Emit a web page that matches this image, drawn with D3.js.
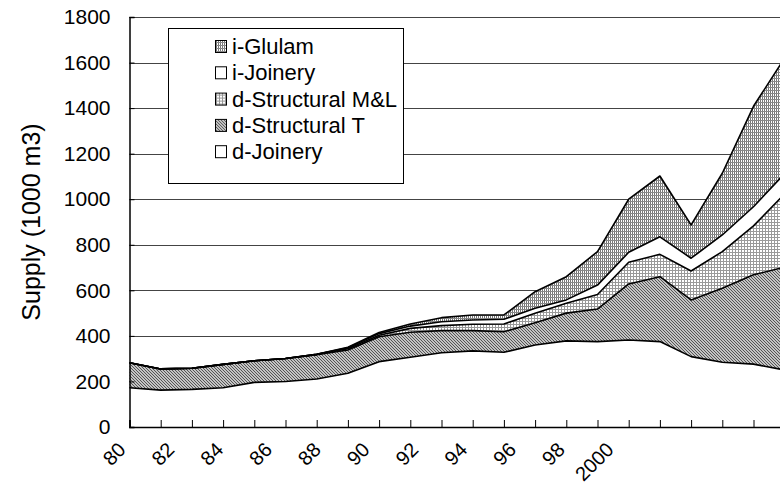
<!DOCTYPE html>
<html>
<head>
<meta charset="utf-8">
<script src="https://cdn.jsdelivr.net/npm/d3@7"></script>
<style>
  body { margin: 0; background: #fff; }
  text { font-family: "Liberation Sans", Arial, sans-serif; fill: #000; }
</style>
</head>
<body>
<div id="chart"></div>
<script>
// categories (years)
var years = [1980, 1981, 1982, 1983, 1984, 1985, 1986, 1987, 1988, 1989, 1990,
             1991, 1992, 1993, 1994, 1995, 1996, 1997, 1998, 1999, 2000, 2001];

// series, bottom to top (1000 m3)
var dJoinery  = [172, 162, 165, 172, 196, 200, 211, 236, 287, 306, 326, 334, 328, 360, 378, 375, 382, 375, 309, 284, 276, 250];
var dStructT  = [110, 93, 93, 103, 95, 101, 106, 102, 109, 110, 97, 89, 90, 98, 122, 143, 246, 285, 249, 325, 392, 452];
var dStructML = [0, 0, 0, 0, 0, 0, 2, 6, 7, 17, 22, 28, 34, 41, 43, 64, 95, 98, 127, 161, 215, 322];
var iJoinery  = [0, 0, 0, 0, 0, 0, 0, 4, 7, 10, 17, 19, 21, 22, 15, 41, 44, 77, 56, 73, 84, 89];
var iGlulam   = [0, 0, 0, 0, 0, 0, 0, 2, 5, 9, 18, 22, 19, 73, 102, 147, 233, 267, 146, 271, 441, 507];

var keys = ['dJoinery', 'dStructT', 'dStructML', 'iJoinery', 'iGlulam'];
var labels = {
    iGlulam: 'i-Glulam',
    iJoinery: 'i-Joinery',
    dStructML: 'd-Structural M&L',
    dStructT: 'd-Structural T',
    dJoinery: 'd-Joinery'
};
var legendOrder = ['iGlulam', 'iJoinery', 'dStructML', 'dStructT', 'dJoinery'];

var yTicks = [0, 200, 400, 600, 800, 1000, 1200, 1400, 1600, 1800];
var xLabels = [1980, 1982, 1984, 1986, 1988, 1990, 1992, 1994, 1996, 1998, 2000];

// table for d3.stack
var table = years.map(function (yr, i) {
    return {
        year: yr,
        dJoinery: dJoinery[i],
        dStructT: dStructT[i],
        dStructML: dStructML[i],
        iJoinery: iJoinery[i],
        iGlulam: iGlulam[i]
    };
});

var width = 780;
var height = 498;
var plotLeft = 129.5;
var plotTop = 17;
var plotBottom = 427;

var x = d3.scaleLinear().domain([1980, 2001]).range([plotLeft, plotLeft + 21 * 31.2]);
var y = d3.scaleLinear().domain([0, 1800]).range([plotBottom, plotTop]);
// the year labels sit on their own, tighter spacing in the picture
var xLab = d3.scaleLinear().domain([1980, 2000]).range([117, 605]);

var svg = d3.select('#chart').append('svg')
    .attr('width', width)
    .attr('height', height);

// fill patterns
var defs = svg.append('defs');

var pGlulam = defs.append('pattern').attr('id', 'p-glulam')
    .attr('patternUnits', 'userSpaceOnUse').attr('width', 2).attr('height', 3);
pGlulam.append('rect').attr('width', 2).attr('height', 3).attr('fill', '#fff');
pGlulam.append('rect').attr('x', 0).attr('width', 1).attr('height', 3).attr('fill', '#777');
pGlulam.append('rect').attr('y', 0).attr('width', 2).attr('height', 1).attr('fill', '#888');

var pML = defs.append('pattern').attr('id', 'p-ml')
    .attr('patternUnits', 'userSpaceOnUse').attr('width', 3).attr('height', 3);
pML.append('rect').attr('width', 3).attr('height', 3).attr('fill', '#fff');
pML.append('rect').attr('width', 1).attr('height', 3).attr('fill', '#999');
pML.append('rect').attr('width', 3).attr('height', 1).attr('fill', '#999');

var pT = defs.append('pattern').attr('id', 'p-t')
    .attr('patternUnits', 'userSpaceOnUse').attr('width', 3).attr('height', 3);
pT.append('rect').attr('width', 3).attr('height', 3).attr('fill', '#c4c4c4');
[0, 1, 2].forEach(function (k) {
    pT.append('rect').attr('x', k).attr('y', k).attr('width', 1).attr('height', 1).attr('fill', '#555');
});

var fills = {
    dJoinery: '#fff',
    dStructT: 'url(#p-t)',
    dStructML: 'url(#p-ml)',
    iJoinery: '#fff',
    iGlulam: 'url(#p-glulam)'
};

// gridlines
svg.append('g').selectAll('line')
    .data(yTicks.slice(1))
    .enter().append('line')
    .attr('x1', plotLeft).attr('x2', width)
    .attr('y1', function (d) { return Math.round(y(d)) + 0.5; })
    .attr('y2', function (d) { return Math.round(y(d)) + 0.5; })
    .attr('stroke', '#444')
    .attr('stroke-width', 1);

// stacked areas
var series = d3.stack().keys(keys)(table);

var area = d3.area()
    .x(function (d) { return x(d.data.year); })
    .y0(function (d) { return y(d[0]); })
    .y1(function (d) { return y(d[1]); });

var topLine = d3.line()
    .x(function (d) { return x(d.data.year); })
    .y(function (d) { return y(d[1]); });

svg.append('g').selectAll('path')
    .data(series)
    .enter().append('path')
    .attr('d', area)
    .attr('fill', function (d) { return fills[d.key]; });

svg.append('g').selectAll('path')
    .data(series)
    .enter().append('path')
    .attr('d', topLine)
    .attr('fill', 'none')
    .attr('stroke', '#000')
    .attr('stroke-width', 1.6)
    .attr('stroke-linejoin', 'round');

// y axis
var yAxis = d3.axisLeft(y).tickValues(yTicks).tickSize(-5).tickPadding(19).tickFormat(d3.format('d'));
var gy = svg.append('g').attr('transform', 'translate(' + plotLeft + ',0)').call(yAxis);
gy.attr('font-family', null).attr('font-size', null);
gy.select('.domain').attr('stroke', '#000').attr('stroke-width', 1.5);
gy.selectAll('.tick line').attr('stroke', '#000');
gy.selectAll('.tick text').style('font-size', '21px');

// x axis
var xAxis = d3.axisBottom(x).tickValues(years).tickSize(-7).tickFormat('');
var gx = svg.append('g').attr('transform', 'translate(0,' + plotBottom + ')').call(xAxis);
gx.select('.domain').attr('stroke', '#000').attr('stroke-width', 1.5);
gx.selectAll('.tick line').attr('stroke', '#000');

// rotated year labels
svg.append('g').selectAll('text')
    .data(xLabels)
    .enter().append('text')
    .attr('transform', function (d) {
        return 'translate(' + xLab(d) + ',' + (plotBottom + 14) + ') rotate(-45)';
    })
    .attr('text-anchor', 'end')
    .attr('dy', '0.7em')
    .style('font-size', '20px')
    .text(function (d) { return d < 2000 ? String(d).slice(2) : String(d); });

// y axis title
svg.append('text')
    .attr('transform', 'translate(40,' + ((plotTop + plotBottom) / 2) + ') rotate(-90)')
    .attr('text-anchor', 'middle')
    .style('font-size', '25px')
    .text('Supply (1000 m3)');

// legend
var legend = svg.append('g');
legend.append('rect')
    .attr('x', 168.5).attr('y', 28.5)
    .attr('width', 235).attr('height', 155)
    .attr('fill', '#fff')
    .attr('stroke', '#000')
    .attr('stroke-width', 1);

var items = legend.selectAll('g.item')
    .data(legendOrder)
    .enter().append('g')
    .attr('class', 'item')
    .attr('transform', function (d, i) { return 'translate(0,' + (i * 26.3) + ')'; });

items.append('rect')
    .attr('x', 215.5).attr('y', 40.5)
    .attr('width', 11).attr('height', 12)
    .attr('fill', function (d) { return fills[d]; })
    .attr('stroke', '#000')
    .attr('stroke-width', 1);

items.append('text')
    .attr('x', 232).attr('y', 54)
    .style('font-size', '22px')
    .text(function (d) { return labels[d]; });
</script>
</body>
</html>
